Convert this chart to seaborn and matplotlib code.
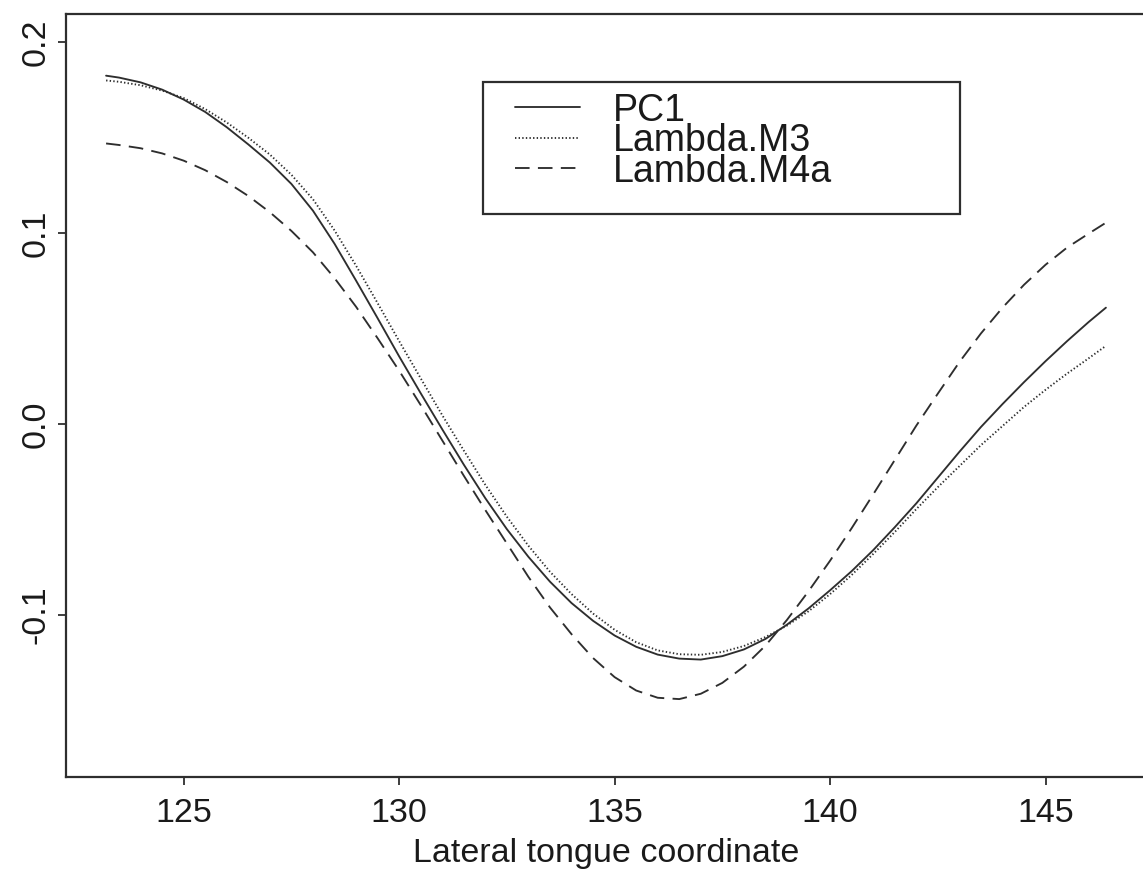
import numpy as np
import pandas as pd
import matplotlib
matplotlib.use("Agg")
import matplotlib.pyplot as plt
from matplotlib.patches import Rectangle
from matplotlib.lines import Line2D
import seaborn as sns

# ---- data ----
x_coord = [123.2, 123.5, 124.0, 124.5, 125.0, 125.5, 126.0, 126.5, 127.0, 127.5,
           128.0, 128.5, 129.0, 129.5, 130.0, 130.5, 131.0, 131.5, 132.0, 132.5,
           133.0, 133.5, 134.0, 134.5, 135.0, 135.5, 136.0, 136.5, 137.0, 137.5,
           138.0, 138.5, 139.0, 139.5, 140.0, 140.5, 141.0, 141.5, 142.0, 142.5,
           143.0, 143.5, 144.0, 144.5, 145.0, 145.5, 146.0, 146.4]

pc1 = [0.1825, 0.1815, 0.1790, 0.1752, 0.1700, 0.1635, 0.1555, 0.1465, 0.1370, 0.1258,
       0.1118, 0.0945, 0.0752, 0.0555, 0.0355, 0.0162, -0.0027, -0.0212, -0.0388, -0.0550,
       -0.0695, -0.0825, -0.0937, -0.1030, -0.1107, -0.1166, -0.1207, -0.1228, -0.1233, -0.1215,
       -0.1180, -0.1125, -0.1050, -0.0965, -0.0870, -0.0770, -0.0660, -0.0540, -0.0415, -0.0280,
       -0.0145, -0.0015, 0.0105, 0.0220, 0.0330, 0.0435, 0.0535, 0.0610]

lambda_m3 = [0.1800, 0.1793, 0.1775, 0.1747, 0.1708, 0.1650, 0.1580, 0.1500, 0.1412, 0.1306,
             0.1178, 0.1015, 0.0830, 0.0634, 0.0435, 0.0240, 0.0047, -0.0138, -0.0318, -0.0485,
             -0.0637, -0.0773, -0.0890, -0.0992, -0.1077, -0.1142, -0.1185, -0.1205, -0.1208, -0.1193,
             -0.1162, -0.1115, -0.1055, -0.0980, -0.0890, -0.0790, -0.0680, -0.0565, -0.0445, -0.0330,
             -0.0220, -0.0110, -0.0010, 0.0090, 0.0180, 0.0265, 0.0345, 0.0410]

lambda_m4a = [0.1470, 0.1462, 0.1445, 0.1418, 0.1380, 0.1330, 0.1268, 0.1195, 0.1110, 0.1012,
              0.0900, 0.0765, 0.0615, 0.0450, 0.0280, 0.0100, -0.0085, -0.0270, -0.0450, -0.0625,
              -0.0800, -0.0960, -0.1100, -0.1225, -0.1325, -0.1395, -0.1433, -0.1440, -0.1412, -0.1355,
              -0.1270, -0.1160, -0.1025, -0.0875, -0.0715, -0.0545, -0.0368, -0.0188, -0.0008, 0.0160,
              0.0325, 0.0475, 0.0610, 0.0730, 0.0835, 0.0925, 0.0998, 0.1055]

series_names = ["PC1", "Lambda.M3", "Lambda.M4a"]
x_ticks = [125, 130, 135, 140, 145]
y_ticks = [-0.1, 0.0, 0.1, 0.2]
y_tick_labels = ["-0.1", "0.0", "0.1", "0.2"]
x_label = "Lateral tongue coordinate"

df = pd.DataFrame({
    "x": x_coord * 3,
    "y": pc1 + lambda_m3 + lambda_m4a,
    "series": [series_names[0]] * len(x_coord) + [series_names[1]] * len(x_coord)
              + [series_names[2]] * len(x_coord),
})

# ---- style ----
sns.set_style("white")
plt.rcParams["font.family"] = ["Liberation Sans", "DejaVu Sans"]
plt.rcParams["lines.scale_dashes"] = False

ink = "#2e2e2e"
txt = "#1a1a1a"
dash_map = {
    "PC1": "",
    "Lambda.M3": (1.0, 1.6),
    "Lambda.M4a": (10.5, 6.0),
}

W, H, DPI = 1143, 873, 100
fig = plt.figure(figsize=(W / DPI, H / DPI), dpi=DPI)
ax = fig.add_axes([66 / W, 96 / H, 1080 / W, 763 / H])

sns.lineplot(data=df, x="x", y="y", style="series", dashes=dash_map,
             color=ink, linewidth=1.35, legend=False, ax=ax, sort=False)

ax.set_xlim(122.27, 147.33)
ax.set_ylim(-0.1848, 0.2148)

ax.set_xticks(x_ticks)
ax.set_yticks(y_ticks)
ax.set_yticklabels(y_tick_labels)
ax.tick_params(axis="both", direction="out", length=5.8, width=1.3, color=ink,
               labelsize=24.5, labelcolor=txt, left=True, bottom=True)
ax.tick_params(axis="x", pad=9.5)
ax.tick_params(axis="y", pad=4.5)
plt.setp(ax.get_yticklabels(), rotation=90, va="center")

ax.set_xlabel(x_label, fontsize=24.5, color=txt, labelpad=6.5)
ax.set_ylabel("")

for side in ["left", "top", "bottom", "right"]:
    ax.spines[side].set_visible(True)
    ax.spines[side].set_color(ink)
    ax.spines[side].set_linewidth(1.6)

# ---- legend (R-style box) ----
box = Rectangle((483 / W, (873 - 214) / H), (960 - 483) / W, (214 - 82) / H,
                transform=fig.transFigure, facecolor="white", edgecolor=ink,
                linewidth=1.6, zorder=5)
fig.patches.append(box)

line_rows = [107, 138, 168]
for name, ly in zip(series_names, line_rows):
    ls = (0, dash_map[name]) if dash_map[name] else "-"
    fig.add_artist(Line2D([515 / W, 580 / W], [(H - ly) / H, (H - ly) / H],
                          transform=fig.transFigure, color=ink, lw=1.35,
                          linestyle=ls, zorder=6))
fig.text(613 / W, (H - 93) / H, "\n".join(series_names), fontsize=27, color=txt,
         ha="left", va="top", linespacing=0.8, zorder=6)

fig.savefig("out.png", dpi=DPI, facecolor="white")
